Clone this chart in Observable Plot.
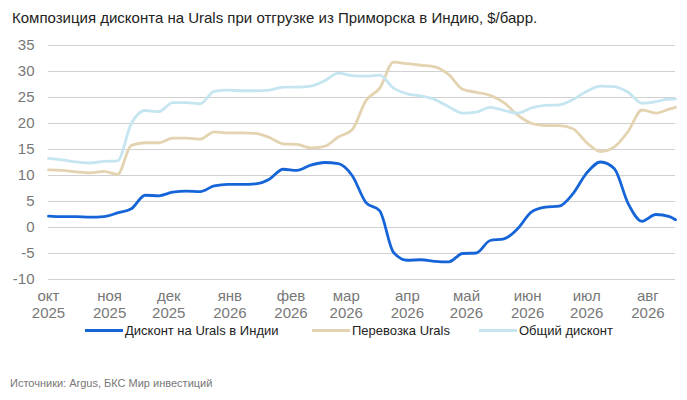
<!DOCTYPE html>
<html>
<head>
<meta charset="utf-8">
<script src="https://cdn.jsdelivr.net/npm/d3@7"></script>
<script src="https://cdn.jsdelivr.net/npm/@observablehq/plot@0.6"></script>
<style>
  body { margin: 0; background: #fff; font-family: "Liberation Sans", Arial, sans-serif; }
  #title { font-size: 15px; color: #222; padding: 9px 0 0 12px; height: 23px; }
  #legend { display: flex; gap: 0; font-size: 13px; color: #222; height: 18px; align-items: center; }
  .item { display: flex; align-items: center; position: absolute; }
  .sw { display: inline-block; width: 38px; height: 3px; margin-right: 2px; }
  #source { font-size: 11px; color: #777; position: absolute; left: 10px; top: 377px; }
</style>
</head>
<body>
<div id="title">Композиция дисконта на Urals при отгрузке из Приморска в Индию, $/барр.</div>
<div id="graph"></div>
<div id="legend"></div>
<div id="source">Источники: Argus, БКС Мир инвестиций</div>
<script>
const dates = [
  "2025-10-01", "2025-10-08", "2025-10-15", "2025-10-22", "2025-10-29",
  "2025-11-05", "2025-11-12", "2025-11-19", "2025-11-26",
  "2025-12-03", "2025-12-10", "2025-12-17", "2025-12-24", "2025-12-31",
  "2026-01-07", "2026-01-14", "2026-01-21", "2026-01-28",
  "2026-02-04", "2026-02-11", "2026-02-18", "2026-02-25",
  "2026-03-04", "2026-03-11", "2026-03-18", "2026-03-25",
  "2026-04-01", "2026-04-08", "2026-04-15", "2026-04-22", "2026-04-29",
  "2026-05-06", "2026-05-13", "2026-05-20", "2026-05-27",
  "2026-06-03", "2026-06-10", "2026-06-17", "2026-06-24",
  "2026-07-01", "2026-07-08", "2026-07-15", "2026-07-22", "2026-07-29",
  "2026-08-05", "2026-08-12", "2026-08-15"
];

// Дисконт на Urals в Индии
const diskontIndia = [
  2.2, 2.1, 2.1, 2.0, 2.1, 2.8, 3.6, 6.2, 6.1, 6.8, 7.0, 6.9, 8.0, 8.3, 8.3, 8.4,
  9.3, 11.2, 11.0, 12.0, 12.5, 12.3, 10.0, 4.8, 3.2, -4.8, -6.3, -6.2, -6.5, -6.6,
  -5.0, -4.9, -2.5, -2.2, -0.2, 3.0, 3.9, 4.1, 6.5, 10.5, 12.6, 11.3, 4.6, 1.2,
  2.5, 2.1, 1.5
];

// Перевозка Urals
const perevozka = [
  11.1, 11.0, 10.7, 10.5, 10.8, 10.2, 15.8, 16.3, 16.3, 17.2, 17.2, 17.0, 18.4, 18.2,
  18.2, 18.1, 17.3, 16.1, 16.0, 15.3, 15.6, 17.4, 18.8, 24.4, 26.8, 31.8, 31.5, 31.2,
  30.9, 29.4, 26.6, 26.0, 25.4, 24.0, 21.6, 20.0, 19.6, 19.6, 19.0, 16.3, 14.6, 15.5,
  18.5, 22.6, 22.0, 22.8, 23.1
];

// Общий дисконт
const obshiy = [
  13.3, 13.0, 12.6, 12.4, 12.7, 12.8, 20.0, 22.5, 22.3, 24.0, 24.0, 23.8, 26.2, 26.4,
  26.3, 26.3, 26.4, 27.0, 27.0, 27.2, 28.2, 29.7, 29.2, 29.1, 29.3, 26.8, 25.7, 25.3,
  24.6, 23.2, 22.0, 22.2, 23.1, 22.5, 22.0, 23.0, 23.5, 23.6, 24.6, 26.2, 27.2, 27.1,
  26.0, 23.9, 24.2, 24.7, 24.7
];

const seriesNames = ["Дисконт на Urals в Индии", "Перевозка Urals", "Общий дисконт"];
const seriesColors = ["#1565d8", "#e3d3b0", "#c5e5f0"];
const monthLabels = ["окт", "ноя", "дек", "янв", "фев", "мар", "апр", "май", "июн", "июл", "авг"];
const yTicks = [-10, -5, 0, 5, 10, 15, 20, 25, 30, 35];

const parse = d3.utcParse("%Y-%m-%d");
const seriesValues = [diskontIndia, perevozka, obshiy];
const rows = seriesValues.flatMap((vals, s) =>
  vals.map((v, i) => ({date: parse(dates[i]), value: v, series: seriesNames[s]}))
);

const monthTicks = d3.utcMonth.range(parse("2025-10-01"), parse("2026-08-02"));

const chart = Plot.plot({
  width: 687,
  height: 290,
  marginTop: 13,
  marginLeft: 48,
  marginRight: 12,
  marginBottom: 43,
  style: {fontFamily: "Liberation Sans, Arial, sans-serif", fontSize: "15px", color: "#777"},
  x: {type: "utc", domain: [parse(dates[0]), parse(dates[dates.length - 1])]},
  y: {domain: [-10, 35]},
  color: {domain: seriesNames, range: seriesColors},
  marks: [
    Plot.gridY(yTicks, {stroke: "#d0d0d0", strokeOpacity: 1, strokeWidth: 1}),
    Plot.axisY(yTicks, {tickSize: 0, tickPadding: 14, label: null, fill: "#777", fontSize: 15, tickFormat: d => String(d)}),
    Plot.axisX(monthTicks, {
      tickSize: 0, tickPadding: 10, label: null, fill: "#777", fontSize: 15, lineHeight: 1.1,
      tickFormat: d => monthLabels[monthTicks.findIndex(m => +m === +d)] + "\n" + d.getUTCFullYear()
    }),
    Plot.lineY(rows, {x: "date", y: "value", stroke: "series", z: "series", strokeWidth: 2.8, curve: "monotone-x"})
  ]
});
document.getElementById("graph").appendChild(chart);

const legend = document.getElementById("legend");
const legendX = [85, 312, 479];
seriesNames.forEach((name, i) => {
  const item = document.createElement("div");
  item.className = "item";
  item.style.left = legendX[i] + "px";
  item.style.top = "323px";
  item.innerHTML = `<span class="sw" style="background:${seriesColors[i]}"></span><span>${name}</span>`;
  legend.appendChild(item);
});
</script>
</body>
</html>
